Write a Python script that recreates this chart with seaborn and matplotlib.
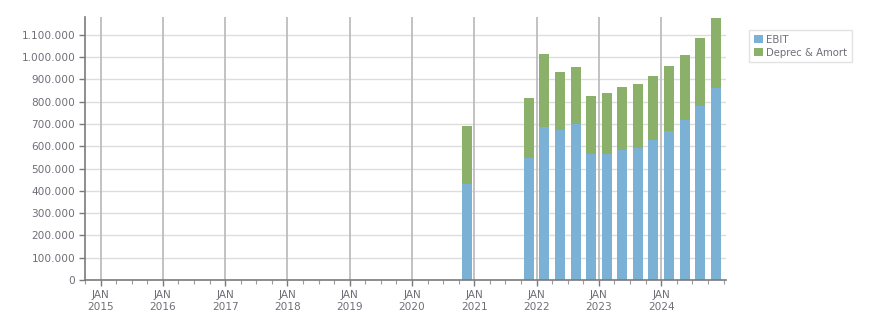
import numpy as np
import pandas as pd
import matplotlib
matplotlib.use("Agg")
import matplotlib.pyplot as plt
import matplotlib.ticker as mticker
from matplotlib.patches import Patch
import seaborn as sns

# Data (quarter labels)
quarters = ["2020Q4", "2021Q4",
            "2022Q1", "2022Q2", "2022Q3", "2022Q4",
            "2023Q1", "2023Q2", "2023Q3", "2023Q4",
            "2024Q1", "2024Q2", "2024Q3", "2024Q4"]
ebit = [430000, 547000,
        685000, 673000, 700000, 565000,
        565000, 583000, 592000, 628000,
        667000, 718000, 781000, 862000]
deprec_amort = [260000, 269000,
                328000, 259000, 255000, 260000,
                273000, 282000, 287000, 287000,
                293000, 291000, 304000, 315000]
year_labels = ["JAN\n2015", "JAN\n2016", "JAN\n2017", "JAN\n2018", "JAN\n2019",
               "JAN\n2020", "JAN\n2021", "JAN\n2022", "JAN\n2023", "JAN\n2024"]
series_names = ["EBIT", "Deprec & Amort"]

# Quarter midpoint as fractional year
def q_center(q):
    y = int(q[:4]); n = int(q[-1])
    return y + (n - 1) * 0.25 + 0.125

df = pd.DataFrame({
    "pos": [q_center(q) for q in quarters],
    "EBIT": ebit,
    "DA": deprec_amort,
})
df["total"] = df["EBIT"] + df["DA"]

sns.set_theme(style="white")
plt.rcParams["font.family"] = ["DejaVu Sans"]

blue = "#7ab1d4"
green = "#8ab06a"
txt = "#6e6e78"

fig = plt.figure(figsize=(8.76, 3.13), dpi=100)
ax = fig.add_axes([85 / 876, 1 - 280 / 313, (726 - 85) / 876, (280 - 17) / 313])

sns.barplot(data=df, x="pos", y="total", native_scale=True, color=green,
            saturation=1, width=0.64, linewidth=0, edgecolor="none", ax=ax, zorder=3)
sns.barplot(data=df, x="pos", y="EBIT", native_scale=True, color=blue,
            saturation=1, width=0.64, linewidth=0, edgecolor="none", ax=ax, zorder=3)

ax.set_xlim(2014.76, 2025.04)
ax.set_ylim(0, 1180000)

years = np.arange(2015, 2025)
ax.set_xticks(years)
ax.set_xticklabels(year_labels)
ax.set_xticks(np.arange(2014.75, 2025.01, 0.25), minor=True)
ax.set_yticks(np.arange(0, 1100001, 100000))
ax.yaxis.set_major_formatter(mticker.FuncFormatter(lambda v, p: f"{int(v):,}".replace(",", ".")))

ax.set_xlabel("")
ax.set_ylabel("")

ax.grid(False)
for v in np.arange(100000, 1100001, 100000):
    ax.axhline(v, color="#dddddd", lw=1.0, zorder=1)
for yv in years:
    ax.axvline(yv, color="#bdbdbd", lw=1.3, zorder=1)

for s in ["top", "right"]:
    ax.spines[s].set_visible(False)
for s in ["left", "bottom"]:
    ax.spines[s].set_color("#7a7a7a")
    ax.spines[s].set_linewidth(1.2)
    ax.spines[s].set_zorder(4)

ax.tick_params(axis="both", which="major", labelsize=7.6, labelcolor=txt, color="#7a7a7a",
               length=4, width=1, left=True, bottom=True, pad=3)
ax.tick_params(axis="x", which="minor", length=3, width=0.8, color="#9a9a9a", bottom=True)
for lab in ax.get_xticklabels():
    lab.set_linespacing(1.25)

handles = [Patch(facecolor=blue, edgecolor="none"), Patch(facecolor=green, edgecolor="none")]
leg = fig.legend(handles, series_names, loc="upper left", bbox_to_anchor=(749 / 876, 1 - 30 / 313),
                 frameon=True, fontsize=7.3, handlelength=0.9, handleheight=0.9,
                 handletextpad=0.35, borderpad=0.45, labelspacing=0.3, borderaxespad=0,
                 fancybox=False)
leg.get_frame().set_edgecolor("#dddddd")
leg.get_frame().set_linewidth(1.0)
for t in leg.get_texts():
    t.set_color(txt)

fig.savefig("out.png", dpi=100)
